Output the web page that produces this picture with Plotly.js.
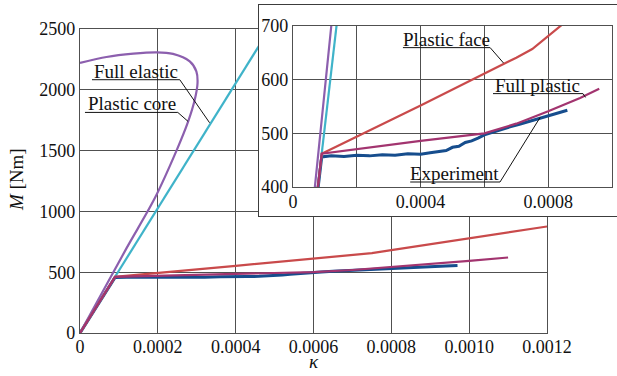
<!DOCTYPE html>
<html>
<head>
<meta charset="utf-8">
<script src="https://cdn.plot.ly/plotly-3.0.1.min.js"></script>
<style>
  html, body { margin: 0; padding: 0; background: #fff; overflow: hidden; }
  #main { position: absolute; left: 0; top: 0; width: 617px; height: 376px; }
  #insetBox { position: absolute; left: 257.5px; top: 4px; width: 362px; height: 211px;
              border: 1.5px solid #3c3c3c; border-right: none; background: #fff; }
  #inset { position: absolute; left: 0; top: 0; width: 360px; height: 211px; }
</style>
</head>
<body>
<div id="main"></div>
<div id="insetBox"><div id="inset"></div></div>
<script>
// Moment M [Nm] versus curvature kappa for the sandwich beam models and the test.
const kappaElastic = [0, 0.0006];
const mElastic = [0, 3080];

const kappaCore = [0, 0.00012, 0.00019, 0.000248, 0.000278, 0.000295, 0.000302, 0.000299, 0.000282, 0.000239, 0.000197, 0.000137, 0.000068, 0];
const mCore = [0, 700, 1095, 1500, 1740, 1920, 2056, 2152, 2234, 2295, 2308, 2297, 2270, 2221];

const kappaFace = [0, 0.00009, 0.0004, 0.0006, 0.0007, 0.00075, 0.0008, 0.0009, 0.001, 0.0011, 0.0012];
const mFace = [0, 462, 552, 611, 641, 657, 682, 729, 776, 826, 876];

const kappaFull = [0, 0.00009, 0.0004, 0.0006, 0.0007, 0.0008, 0.0009, 0.00096, 0.001, 0.0011];
const mFull = [0, 462, 486, 500, 518, 541, 566, 583, 593, 621];

const kappaTest = [0, 0.00009, 0.00012, 0.00016, 0.0002, 0.00024, 0.00028, 0.00032, 0.00036, 0.0004, 0.00043, 0.00046,
                   0.00048, 0.0005, 0.00052, 0.00054, 0.00056, 0.00058, 0.0006, 0.00062, 0.00065, 0.00068, 0.00071,
                   0.00074, 0.00077, 0.0008, 0.00083, 0.00086, 0.0009, 0.00094, 0.00097];
const mTest = [0, 456, 458, 457, 459, 458, 460, 459, 462, 461, 464, 466,
               468, 474, 476, 483, 486, 491, 497, 501, 507, 512, 517,
               522, 527, 532, 538, 543, 547, 551, 555];

// the inset shows the test record and the full plastic model over a shorter span
const insetEndTest = 0.00087;
const insetEndFull = 0.00096;

const kappaTicks = [0, 0.0002, 0.0004, 0.0006, 0.0008, 0.001, 0.0012];
const kappaTickText = ['0', '0.0002', '0.0004', '0.0006', '0.0008', '0.0010', '0.0012'];
const mTicks = [0, 500, 1000, 1500, 2000, 2500];

const insetKappaTicks = [0, 0.0002, 0.0004, 0.0006, 0.0008, 0.001];
const insetKappaText = ['0', '', '0.0004', '', '0.0008', ''];
const insetMTicks = [400, 500, 600, 700];

const colors = { elastic: '#3fb3c9', core: '#8c5fae', face: '#c94a4b', full: '#a2346f', test: '#164d8d' };
const serif = 'Liberation Serif, Times New Roman, serif';
const gridColor = '#505050';

function series(x, y, color, width, limit, smooth) {
  let xs = x, ys = y;
  if (limit !== undefined) {
    xs = x.filter(v => v <= limit);
    ys = y.slice(0, xs.length);
  }
  const line = { color: color, width: width, shape: smooth ? 'spline' : 'linear' };
  if (smooth) line.smoothing = 0.8;
  return { x: xs, y: ys, type: 'scatter', mode: 'lines', hoverinfo: 'skip', line: line };
}

function tracesFor(inset) {
  return [
    series(kappaTest, mTest, colors.test, 3, inset ? insetEndTest : undefined),
    series(kappaCore, mCore, colors.core, 2.2, undefined, true),
    series(kappaElastic, mElastic, colors.elastic, 2.2),
    series(kappaFace, mFace, colors.face, 2.2),
    series(kappaFull, mFull, colors.full, 2.2, inset ? insetEndFull : undefined)
  ];
}

function axis(range, tickvals, ticktext, size, standoff) {
  return { range: range, tickvals: tickvals, ticktext: ticktext, showgrid: true, gridcolor: gridColor,
           gridwidth: 1.2, showline: true, linecolor: gridColor, linewidth: 1.2, mirror: true,
           zeroline: false, ticks: '', fixedrange: true, ticklabelstandoff: standoff || 0,
           tickfont: { family: serif, size: size, color: '#111' } };
}

function label(text, x, y) {
  return { text: text, x: x, y: y, xref: 'x', yref: 'y', xanchor: 'center', yanchor: 'bottom',
           yshift: -4, showarrow: false, font: { family: serif, size: 19, color: '#111' } };
}

function leader(x0, x1, y, xe, ye) {
  return { type: 'path', xref: 'x', yref: 'y', line: { color: '#111', width: 1 },
           path: 'M' + x0 + ',' + y + ' L' + x1 + ',' + y + ' L' + xe + ',' + ye };
}

const mainLayout = {
  width: 617, height: 376,
  margin: { l: 80, r: 70, t: 29, b: 43 },
  paper_bgcolor: '#fff', plot_bgcolor: '#fff', showlegend: false,
  xaxis: axis([0, 0.0012], kappaTicks, kappaTickText, 18, -3),
  yaxis: axis([0, 2500], mTicks, mTicks.map(String), 18),
  annotations: [
    { text: '<i>M</i> [Nm]', xref: 'paper', yref: 'paper', x: -0.137, y: 0.503, textangle: -90,
      xanchor: 'center', yanchor: 'middle',
      showarrow: false, font: { family: serif, size: 19, color: '#111' } },
    { text: '<i>κ</i>', xref: 'paper', yref: 'paper', x: 0.5, y: -0.093,
      xanchor: 'center', yanchor: 'middle',
      showarrow: false, font: { family: serif, size: 19, color: '#111' } },
    label('Full elastic', 0.0001436, 2083),
    label('Plastic core', 0.0001346, 1814)
  ],
  shapes: [
    leader(0.0000308, 0.0002564, 2083, 0.000333, 1729),
    leader(0.0000128, 0.0002513, 1814, 0.0002777, 1740)
  ]
};

const insetLayout = {
  width: 360, height: 211,
  margin: { l: 34, r: 7, t: 20.5, b: 28.5 },
  paper_bgcolor: '#fff', plot_bgcolor: '#fff', showlegend: false,
  xaxis: axis([0, 0.001], insetKappaTicks, insetKappaText, 18, -2),
  yaxis: axis([400, 700], insetMTicks, insetMTicks.map(String), 18),
  annotations: [
    label('Plastic face', 0.0004817, 659.7),
    label('Full plastic', 0.0007668, 574),
    label('Experiment', 0.0005074, 409.3)
  ],
  shapes: [
    leader(0.0003446, 0.000618, 659.7, 0.00066, 631),
    leader(0.000627, 0.000909, 574, 0.000917, 567),
    leader(0.0003674, 0.000649, 409.3, 0.000775, 530)
  ]
};

const config = { staticPlot: true, displayModeBar: false };
Plotly.newPlot('main', tracesFor(false), mainLayout, config);
Plotly.newPlot('inset', tracesFor(true), insetLayout, config);
</script>
</body>
</html>
